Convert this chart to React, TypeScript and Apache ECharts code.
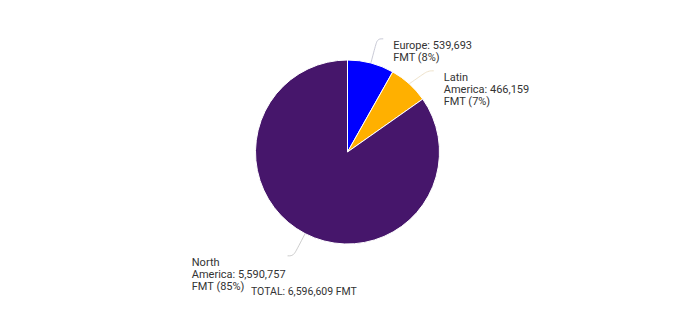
import React, { useEffect, useRef } from "react";
import * as echarts from "echarts";

const categories = ["Europe", "Latin America", "North America"];
const values = [539693, 466159, 5590757];
const colors = ["#0000FF", "#FFB000", "#46166B"];
const lineColors = ["#c9cad6", "#efe3cb", "#cccccc"];
const totalLabel = "TOTAL: 6,596,609 FMT";

export default function App() {
  const ref = useRef<HTMLDivElement>(null);
  useEffect(() => {
    const chart = echarts.init(ref.current!, null, { renderer: "svg" });
    const total = values.reduce((a, b) => a + b, 0);
    chart.setOption({
      animation: false,
      series: [
        {
          type: "pie",
          center: [339.5, 144],
          radius: 92,
          startAngle: 90,
          clockwise: true,
          data: categories.map((c, i) => ({
            name: c,
            value: values[i],
            itemStyle: { color: colors[i] },
            labelLine: { lineStyle: { color: lineColors[i], width: 1 } },
          })),
          itemStyle: { borderColor: "#ffffff", borderWidth: 1 },
          label: {
            show: true,
            position: "outside",
            fontFamily: "Roboto",
            fontSize: 11,
            lineHeight: 12,
            color: "#333333",
            formatter: (p: any) =>
              `${p.name.split(" ").join("\n")}: ${p.value.toLocaleString(
                "en-US"
              )}\nFMT (${Math.round((p.value / total) * 100)}%)`,
          },
          labelLine: { show: true, length: 25, length2: 6, smooth: 0.4 },
          labelLayout: (params: any) => {
            const pts = params.labelLinePoints;
            if (!pts) return {};
            const end = pts[pts.length - 1];
            const right = end[0] >= 339.5;
            const w = params.labelRect.width;
            return {
              x: right ? end[0] + 10 : end[0] - 2 - w,
              y: end[1] + 1,
              align: "left",
              verticalAlign: "top",
              labelLinePoints: pts,
            };
          },
        },
      ],
      graphic: [
        {
          type: "text",
          left: 243,
          top: 278,
          style: {
            text: totalLabel,
            fontFamily: "Roboto",
            fontSize: 10.5,
            fill: "#333333",
          },
        },
      ],
    });
    return () => chart.dispose();
  }, []);
  return <div ref={ref} style={{ width: 679, height: 303 }} />;
}
